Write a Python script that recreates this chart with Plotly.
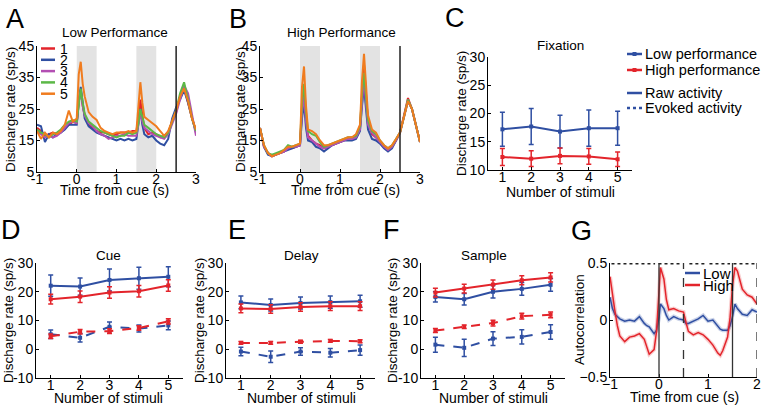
import plotly.graph_objects as go

W, H = 762, 409
FONT = "Liberation Sans, Arial, sans-serif"
RED = "#e3242b"
BLUE = "#2f4fa2"
PURPLE = "#b34fb3"
GREEN = "#5cb847"
ORANGE = "#f07c1f"
SERIES_COLORS = [RED, BLUE, PURPLE, GREEN, ORANGE]

# ---------------- data ----------------
time_ab = [-1.0, -0.9, -0.8, -0.7, -0.6, -0.5, -0.4, -0.3, -0.2, -0.1, 0.0, 0.05, 0.1, 0.15,
           0.2, 0.3, 0.4, 0.5, 0.6, 0.7, 0.8, 0.9, 1.0, 1.1, 1.2, 1.3, 1.4, 1.5, 1.55, 1.6,
           1.65, 1.7, 1.8, 1.9, 2.0, 2.1, 2.2, 2.3, 2.4, 2.5, 2.6, 2.7, 2.8, 2.9, 3.0]
series_labels = ["1", "2", "3", "4", "5"]

low_1 = [19, 18, 16.5, 17, 17.5, 17, 18, 19, 20, 21, 20.5, 28, 31, 26, 23, 20, 19, 18, 17.5, 17.5,
         17, 16.5, 17, 17.5, 17.5, 17.5, 18, 18, 22, 28, 23, 19, 17, 17.5, 17, 16, 16.5, 17.5, 21,
         24, 29, 32, 27, 22, 18]
low_2 = [20, 19.5, 14.5, 17, 16, 17, 17.5, 18.5, 20, 20, 20, 27, 32, 27, 22, 19.5, 18.5, 17.5, 17,
         16.5, 16, 15.5, 15, 15.5, 15, 15.5, 15, 15.5, 20, 25, 20, 17, 16, 16.5, 15, 14, 13.5, 15.5,
         22, 25.5, 28, 31, 27, 22, 17.5]
low_3 = [18, 17, 16, 16.5, 16, 16.5, 17.5, 19, 20.5, 21, 20.5, 27, 31, 26, 23, 20.5, 19.5, 18, 17,
         16.5, 15.5, 16, 16.5, 16.5, 17, 16.5, 16.5, 16.5, 20, 24, 21, 19, 18, 17, 16.5, 16, 15.5,
         17, 20.5, 23.5, 28, 32.5, 30, 23, 16.5]
low_4 = [18.5, 17.5, 17, 16, 17, 17.5, 18.5, 20, 21, 21.5, 21, 27, 31.5, 27, 23.5, 21, 20, 19, 18,
         17.5, 17, 16.5, 16, 16.5, 16.5, 17.5, 17, 17.5, 20.5, 25, 22, 20, 19, 18, 17, 16.5, 16,
         17.5, 21, 24.5, 30, 33.5, 28, 22, 18]
low_5 = [18, 15.5, 17.5, 16, 17.5, 17, 18, 20, 24.5, 21, 22, 36, 40, 33, 29, 24, 22.5, 21.5, 19, 18,
         17.5, 17, 17.5, 17.5, 17.5, 18, 17.5, 18, 26, 33.5, 27, 22.5, 21.5, 20.5, 19.5, 18, 16.5,
         18, 21.5, 24.5, 29, 31.5, 27.5, 22, 18.5]

high_1 = [19, 13, 11, 10, 10.5, 11, 11.5, 12.5, 12.5, 13, 13.5, 25, 31, 22, 16.5, 15, 14, 13.5, 12.5,
          13, 13.5, 14, 14.5, 15, 15.5, 15.5, 16.5, 19, 30, 39, 30, 21, 17, 16, 14.5, 13, 12, 13,
          15, 17.5, 23, 28.5, 25, 19.5, 14.5]
high_2 = [19, 13, 10.5, 10, 10.5, 11, 11.5, 12, 12.5, 13, 13.5, 22, 27, 19, 15, 14.5, 13, 12.5, 11.5,
          12.5, 13.5, 14, 14.5, 15, 15, 15, 15.5, 18, 26, 32, 25, 18.5, 15.5, 15, 14, 12.5, 11.5,
          12.5, 15, 17.5, 22.5, 27.5, 25, 19.5, 14.5]
high_3 = [19, 13, 11, 10, 10.5, 11, 11.5, 12.5, 13, 13, 13.5, 24, 29, 21, 16, 15, 14, 13, 12.5, 13,
          13.5, 14, 14.5, 15, 15.5, 15.5, 16, 18.5, 28, 35, 27, 20, 17.5, 16, 14.5, 13, 12, 13, 15,
          17.5, 22.5, 28, 25, 19.5, 14.5]
high_4 = [19, 13.5, 11, 10.5, 11, 11.5, 12, 13.5, 13, 13.5, 14, 27, 33, 24, 18, 17, 16.5, 14.5, 13,
          13.5, 14, 14.5, 15, 15.5, 16, 16, 16.5, 19.5, 30, 36.5, 29, 21.5, 18, 17, 15, 13.5, 12.5,
          13.5, 15.5, 17.5, 22.5, 28, 25, 19.5, 14.5]
high_5 = [19, 13.5, 11, 10, 10.5, 11, 12, 13, 13, 13.5, 14, 32, 38.5, 26, 18.5, 18, 17, 15, 13.5,
          13.5, 14, 14.5, 15, 15.5, 16, 16, 17, 20, 34, 42.5, 33, 23, 18.5, 17.5, 15, 13.5, 12.5,
          13.5, 15.5, 17.5, 22.5, 27.5, 25, 19.5, 14.5]

stimuli = [1, 2, 3, 4, 5]
fix_low = [17.2, 17.7, 16.8, 17.4, 17.4]
fix_low_err = [3.0, 3.2, 2.9, 3.2, 3.0]
fix_high = [12.3, 12.0, 12.5, 12.4, 11.9]
fix_high_err = [1.5, 1.4, 1.4, 1.4, 1.3]

cue_low_raw = [22.1, 21.8, 24.1, 24.7, 25.2]
cue_low_raw_err = [3.7, 3.0, 3.8, 3.8, 3.5]
cue_high_raw = [17.4, 18.3, 19.7, 20.2, 22.2]
cue_high_raw_err = [1.7, 2.0, 2.0, 2.0, 2.0]
cue_low_ev = [5.2, 4.0, 7.8, 7.2, 8.3]
cue_low_ev_err = [1.5, 1.5, 1.7, 1.2, 1.5]
cue_high_ev = [4.5, 6.1, 6.3, 7.4, 9.7]
cue_high_ev_err = [0.8, 0.8, 0.8, 0.8, 0.9]

delay_low_raw = [16.3, 15.4, 16.1, 16.4, 16.7]
delay_low_raw_err = [2.2, 2.1, 2.1, 2.1, 2.1]
delay_high_raw = [14.2, 14.0, 14.7, 15.0, 15.0]
delay_high_raw_err = [1.5, 1.5, 1.5, 1.5, 1.5]
delay_low_ev = [-0.8, -2.6, -0.8, -1.2, -0.3]
delay_low_ev_err = [1.5, 2.0, 1.3, 1.5, 1.8]
delay_high_ev = [2.2, 2.2, 2.6, 2.9, 2.8]
delay_high_ev_err = [0.5, 0.5, 0.5, 0.5, 0.5]

sample_low_raw = [18.2, 17.4, 20.0, 21.0, 22.4]
sample_low_raw_err = [1.8, 2.0, 2.2, 2.2, 2.2]
sample_high_raw = [19.7, 21.1, 22.5, 24.0, 25.0]
sample_high_raw_err = [1.5, 1.5, 1.6, 1.6, 1.6]
sample_low_ev = [1.6, 0.5, 3.7, 4.3, 6.0]
sample_low_ev_err = [2.6, 3.0, 2.4, 2.5, 2.5]
sample_high_ev = [6.5, 7.8, 9.1, 11.5, 12.0]
sample_high_ev_err = [0.7, 0.6, 1.0, 1.0, 1.0]

time_g = [-1.0, -0.95, -0.9, -0.85, -0.8, -0.7, -0.6, -0.5, -0.4, -0.3, -0.25, -0.2, -0.1, -0.05,
          0.0, 0.03, 0.1, 0.15, 0.2, 0.3, 0.4, 0.5, 0.55, 0.6, 0.7, 0.8, 0.9, 1.0, 1.1, 1.2, 1.25,
          1.3, 1.4, 1.45, 1.5, 1.55, 1.6, 1.7, 1.8, 1.9, 2.0]
autocorr_high = [0.38, 0.22, 0.08, -0.05, -0.14, -0.19, -0.15, -0.14, -0.12, -0.17, -0.24, -0.30,
                 -0.26, -0.10, 0.25, 0.46, 0.36, 0.18, 0.09, 0.10, 0.08, 0.07, -0.02, -0.10, -0.13,
                 -0.11, -0.13, -0.17, -0.22, -0.29, -0.31, -0.27, -0.15, 0.02, 0.30, 0.46, 0.43,
                 0.27, 0.22, 0.20, 0.14]
autocorr_low = [0.20, 0.10, 0.05, 0.03, 0.01, -0.01, 0.0, -0.01, 0.03, -0.03, -0.05, -0.06, -0.12,
                -0.09, 0.02, 0.14, 0.10, 0.04, 0.0, 0.03, 0.01, 0.0, -0.03, -0.03, -0.01, 0.01,
                0.04, -0.01, 0.0, -0.06, -0.08, -0.09, -0.09, -0.05, 0.03, 0.14, 0.10, 0.05, 0.04,
                0.09, 0.07]
sig_start = [-0.97, -0.01, 0.62, 1.03, 1.52]
sig_end = [-0.08, 0.46, 0.96, 1.45, 1.96]

# ---------------- layout helpers ----------------
def px(x):
    return x / W


def py(y):
    return 1 - y / H


panels = {
    # name: (axis suffix, x-left, x-right, y-top, y-bottom)
    "A": ("", 37, 196, 46, 172),
    "B": ("2", 260, 420, 46, 172),
    "C": ("3", 488, 632, 57, 170),
    "D": ("4", 36, 183, 263, 378),
    "E": ("5", 226, 375, 263, 378),
    "F": ("6", 421, 565, 263, 378),
    "G": ("7", 610, 757, 263, 377),
}

fig = go.Figure()
shapes = []
annotations = []


def ax_ref(name):
    s = panels[name][0]
    return "x" + s, "y" + s


# ---------- A and B ----------
for name, data in (("A", [low_1, low_2, low_3, low_4, low_5]),
                   ("B", [high_1, high_2, high_3, high_4, high_5])):
    xr, yr = ax_ref(name)
    for x0, x1 in ((0, 0.5), (1.5, 2.0)):
        shapes.append(dict(type="rect", xref=xr, yref=yr + " domain", x0=x0, x1=x1, y0=0, y1=1,
                           fillcolor="#e3e3e3", line=dict(width=0), layer="below"))
    shapes.append(dict(type="line", xref=xr, yref=yr + " domain", x0=2.5, x1=2.5, y0=0, y1=1,
                       line=dict(color="#222", width=1.5)))
    for vals, col, lab in zip(data, SERIES_COLORS, series_labels):
        fig.add_trace(go.Scatter(x=time_ab, y=vals, mode="lines", name=lab, xaxis=xr, yaxis=yr,
                                 line=dict(color=col, width=2), showlegend=False))


# ---------- C to F ----------
def err_trace(name, y, err, col, dash):
    xr, yr = ax_ref(name)
    fig.add_trace(go.Scatter(
        x=stimuli, y=y, xaxis=xr, yaxis=yr, mode="lines+markers", showlegend=False,
        line=dict(color=col, width=2, dash=dash),
        marker=dict(color=col, size=4, symbol="square"),
        error_y=dict(type="data", array=err, color=col, thickness=1.5, width=2.5)))


err_trace("C", fix_low, fix_low_err, BLUE, "solid")
err_trace("C", fix_high, fix_high_err, RED, "solid")

for name, sets in (
        ("D", [(cue_low_raw, cue_low_raw_err, BLUE, "solid"),
               (cue_high_raw, cue_high_raw_err, RED, "solid"),
               (cue_low_ev, cue_low_ev_err, BLUE, "dash"),
               (cue_high_ev, cue_high_ev_err, RED, "dash")]),
        ("E", [(delay_low_raw, delay_low_raw_err, BLUE, "solid"),
               (delay_high_raw, delay_high_raw_err, RED, "solid"),
               (delay_low_ev, delay_low_ev_err, BLUE, "dash"),
               (delay_high_ev, delay_high_ev_err, RED, "dash")]),
        ("F", [(sample_low_raw, sample_low_raw_err, BLUE, "solid"),
               (sample_high_raw, sample_high_raw_err, RED, "solid"),
               (sample_low_ev, sample_low_ev_err, BLUE, "dash"),
               (sample_high_ev, sample_high_ev_err, RED, "dash")])):
    for y, e, c, d in sets:
        err_trace(name, y, e, c, d)

# ---------- G ----------
xr, yr = ax_ref("G")
for xv, dash in ((0, "solid"), (1.5, "solid"), (0.5, "dash"), (2.0, "dash")):
    shapes.append(dict(type="line", xref=xr, yref=yr + " domain", x0=xv, x1=xv, y0=0, y1=1,
                       line=dict(color="#333", width=1.3, dash=dash)))
for vals, col, band in ((autocorr_low, BLUE, "rgba(47,79,162,0.25)"),
                        (autocorr_high, RED, "rgba(227,36,43,0.22)")):
    fig.add_trace(go.Scatter(x=time_g, y=vals, mode="lines", xaxis=xr, yaxis=yr, showlegend=False,
                             line=dict(color=band, width=4)))
    fig.add_trace(go.Scatter(x=time_g, y=vals, mode="lines", xaxis=xr, yaxis=yr, showlegend=False,
                             line=dict(color=col, width=1.5)))
for s0, s1 in zip(sig_start, sig_end):
    fig.add_trace(go.Scatter(x=[s0, s1], y=[0.5, 0.5], mode="lines", xaxis=xr, yaxis=yr,
                             showlegend=False, cliponaxis=False,
                             line=dict(color="#222", width=3, dash="dot")))

# ---------- axes ----------
axis_common = dict(showline=True, linecolor="black", linewidth=1, ticks="inside", ticklen=3,
                   tickcolor="black", showgrid=False, zeroline=False, fixedrange=True,
                   automargin=False,
                   tickfont=dict(family=FONT, size=14, color="black"))


def set_axes(name, xrange, xticks, xtext, yrange, yticks, ytext):
    s, x0, x1, y0, y1 = panels[name]
    xa = dict(axis_common, domain=[px(x0), px(x1)], range=xrange, tickvals=xticks, ticktext=xtext,
              anchor="y" + s, ticklabelstandoff=-6)
    ya = dict(axis_common, domain=[py(y1), py(y0)], range=yrange, tickvals=yticks, ticktext=ytext,
              anchor="x" + s, ticklabelstandoff=-1)
    fig.update_layout(**{"xaxis" + s: xa, "yaxis" + s: ya})


t_ticks = [-1, 0, 1, 2, 3]
t_text = ["-1", "0", "1", "2", "3"]
set_axes("A", [-1, 3], t_ticks, t_text, [5, 45], [5, 15, 25, 35, 45], ["5", "15", "25", "35", "45"])
set_axes("B", [-1, 3], t_ticks, t_text, [5, 45], [5, 15, 25, 35, 45], ["5", "15", "25", "35", "45"])
st_text = ["1", "2", "3", "4", "5"]
set_axes("C", [0.5, 5.5], stimuli, st_text, [10, 30], [10, 15, 20, 25, 30],
         ["10", "15", "20", "25", "30"])
for n in ("D", "E", "F"):
    set_axes(n, [0.5, 5.5], stimuli, st_text, [-10, 30], [-10, 0, 10, 20, 30],
             ["-10", "0", "10", "20", "30"])
set_axes("G", [-1, 2], [-1, 0, 1, 2], ["\u22121", "0", "1", "2"], [-0.5, 0.5], [-0.5, 0, 0.5],
         ["\u22120.5", "0", "0.5"])


# ---------- text ----------
def text(x, y, s, size=14, angle=0, xanchor="center"):
    annotations.append(dict(x=px(x), y=py(y), xref="paper", yref="paper", text=s, showarrow=False,
                            textangle=angle, xanchor=xanchor, yanchor="middle",
                            font=dict(family=FONT, size=size, color="black")))


for letter, x, y in (("A", 15, 19), ("B", 238, 19), ("C", 455, 18), ("D", 11, 230),
                     ("E", 237, 230), ("F", 391, 230), ("G", 581, 231)):
    text(x, y, letter, size=27)

text(115, 33, "Low Performance", 13.5)
text(341, 33, "High Performance", 13.5)
text(560, 46, "Fixation", 13.5)
text(108, 255, "Cue", 13.5)
text(301, 255, "Delay", 13.5)
text(484, 255, "Sample", 13.5)

for x, y in ((10, 110), (240, 110), (461, 114), (8, 321), (199, 321), (392, 321)):
    text(x, y, "Discharge rate (sp/s)", 13.5, -90)
text(579, 320, "Autocorrelation", 13.5, -90)
text(114, 190, "Time from cue (s)", 14)
text(345, 190, "Time from cue (s)", 14)
text(560, 192, "Number of stimuli", 14)
text(108, 398, "Number of stimuli", 14)
text(301, 398, "Number of stimuli", 14)
text(493, 398, "Number of stimuli", 14)
text(684, 397, "Time from cue (s)", 14)

# legend A (drawn by hand to keep its tight spacing)
for i, (lab, col) in enumerate(zip(series_labels, SERIES_COLORS)):
    yy = 48.5 + i * 11.3
    shapes.append(dict(type="line", xref="paper", yref="paper", x0=px(41), x1=px(55), y0=py(yy),
                       y1=py(yy), line=dict(color=col, width=2.5)))
    text(58, yy, lab, 14, xanchor="left")

# legend C
for yy, lab, col, dash, dot in ((54, "Low performance", BLUE, "solid", True),
                                (70, "High performance", RED, "solid", True),
                                (93, "Raw activity", BLUE, "solid", False),
                                (108, "Evoked activity", BLUE, "dot", False)):
    shapes.append(dict(type="line", xref="paper", yref="paper", x0=px(627), x1=px(642),
                       y0=py(yy), y1=py(yy), line=dict(color=col, width=2.5, dash=dash)))
    if dot:
        shapes.append(dict(type="rect", xref="paper", yref="paper", x0=px(632.5), x1=px(636.5),
                           y0=py(yy + 2), y1=py(yy - 2), fillcolor=col, line=dict(width=0)))
    text(643, yy, lab, 14.5, xanchor="left")

# legend G
for yy, lab, col in ((273, "Low", BLUE), (285, "High", RED)):
    shapes.append(dict(type="line", xref="paper", yref="paper", x0=px(685), x1=px(700),
                       y0=py(yy), y1=py(yy), line=dict(color=col, width=2.5)))
    text(701, yy, lab, 15, xanchor="left")

fig.update_layout(width=W, height=H, margin=dict(l=0, r=0, t=0, b=0), paper_bgcolor="white",
                  plot_bgcolor="rgba(0,0,0,0)", shapes=shapes, annotations=annotations,
                  showlegend=False, font=dict(family=FONT, color="black"))
fig.write_html("out.html", config={"displayModeBar": False},
               post_script="document.body.style.margin='0';document.body.style.overflow='hidden';")
